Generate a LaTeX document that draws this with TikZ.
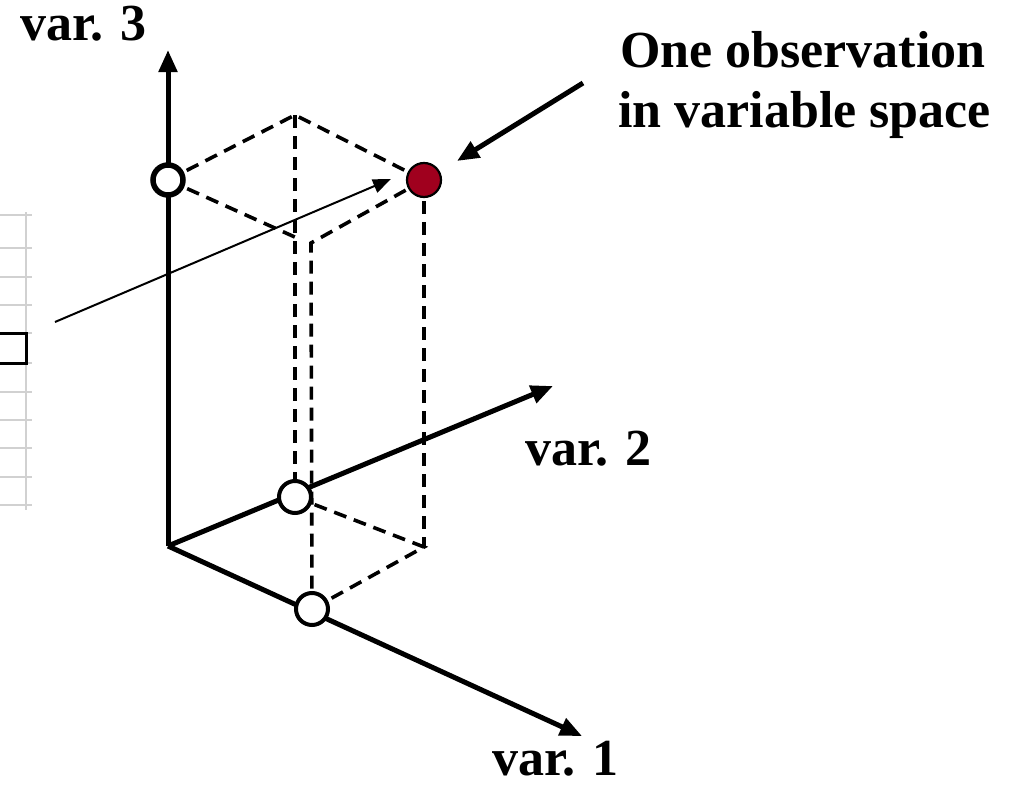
\documentclass[tikz,border=0pt]{standalone}
\usepackage{fontspec}
\setmainfont{Liberation Serif}
\usetikzlibrary{arrows.meta}
\definecolor{obsred}{HTML}{A0001E}
\begin{document}
\begin{tikzpicture}[x=1pt,y=-1pt,
  axis/.style={line width=5pt,-{Triangle[length=22pt,width=18pt]}},
  dsh/.style={line width=3.6pt,dash pattern=on 13pt off 8pt},
  pt/.style={circle,draw,line width=4pt,fill=white,minimum size=32pt,inner sep=0pt},
  redpt/.style={circle,draw,line width=2.2pt,fill=obsred,minimum size=34pt,inner sep=0pt},
  lbl/.style={font=\fontsize{52}{62}\selectfont\bfseries,inner sep=0pt,anchor=base west},
  grid/.style={draw=black!18,line width=2pt}]
\useasboundingbox (0,0) rectangle (1021,787);
% left grid fragment
\foreach \yy in {215,248,277,305,333,363,392,420,448,477,505}
  \draw[grid] (0,\yy) -- (32,\yy);
\draw[grid] (26,212) -- (26,510);
\draw[line width=3pt] (0,333) -- (26,333) -- (26,363) -- (0,363);
% coordinates
\coordinate (O) at (168,546);
\coordinate (T3) at (168,50);
\coordinate (T2) at (553,386);
\coordinate (T1) at (582,736);
\coordinate (P3) at (168,180);
\coordinate (P2) at (295,497);
\coordinate (P1) at (312,609);
\coordinate (R) at (424,180);
\coordinate (C) at (424,547);
\coordinate (A) at (295,115);
\coordinate (B) at (311,243);
\coordinate (Bh) at (297,238);
% dashed box
\draw[dsh] (P3) -- (A) -- (R);
\draw[dsh] (P3) -- (Bh);
\draw[dsh] (R) -- (B) -- (P1);
\draw[dsh] (A) -- (P2);
\draw[dsh] (R) -- (C);
\draw[dsh] (P2) -- (C) -- (P1);
% axes
\draw[axis] (O) -- (T3);
\draw[axis] (O) -- (T2);
\draw[axis] (O) -- (T1);
% thin arrow
\coordinate (S) at (55,322);
\coordinate (E) at (391,179);
\draw[line width=2pt,-{Triangle[length=18pt,width=14pt]}] (S) -- (E);
% points
\node[pt,line width=5.5pt,minimum size=30pt] (n3) at (P3) {};
\node[pt] (n2) at (P2) {};
\node[pt] (n1) at (P1) {};
\node[redpt] (nr) at (R) {};
% callout arrow
\coordinate (Q) at (583,83);
\draw[line width=5pt,-{Triangle[length=22pt,width=18pt]}] (Q) -- (457,161);
% labels
\node[lbl] (l3) at (20,40) {var. 3};
\node[lbl] (lo1) at (620,67) {One observation};
\node[lbl] (lo2) at (618,127) {in variable space};
\node[lbl] (l2) at (525,465) {var. 2};
\node[lbl] (l1) at (492,775) {var. 1};
\end{tikzpicture}
\end{document}
